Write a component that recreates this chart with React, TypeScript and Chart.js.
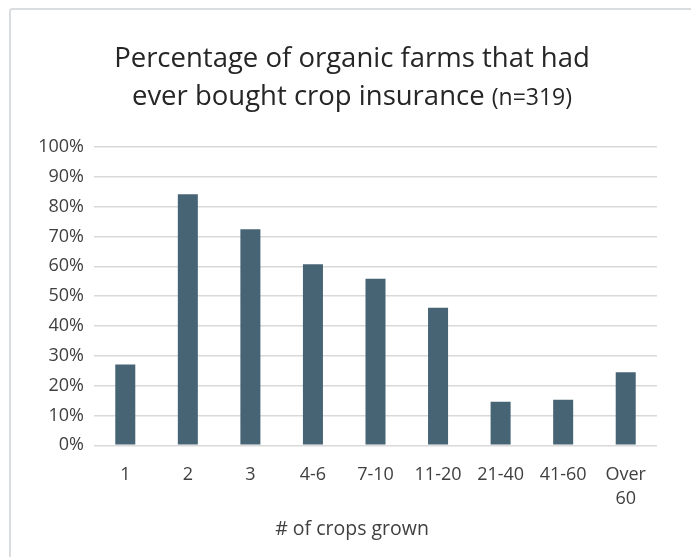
import React, { useEffect, useRef } from "react";
import { Chart, registerables } from "chart.js";

Chart.register(...registerables);

const categories: (string | string[])[] = ["1", "2", "3", "4-6", "7-10", "11-20", "21-40", "41-60", ["Over", "60"]];
const percentEverBought: number[] = [27.1, 84.2, 72.4, 60.7, 55.8, 46.1, 14.6, 15.3, 24.5];
const titleMain = "Percentage of organic farms that had";
const titleLine2 = "ever bought crop insurance";
const titleNote = "(n=319)";
const xAxisTitle = "# of crops grown";

const FONT = "'Open Sans', 'DejaVu Sans', sans-serif";
const TEXT = "#404040";

export default function App() {
  const canvasRef = useRef<HTMLCanvasElement | null>(null);

  useEffect(() => {
    if (!canvasRef.current) return;
    const chart = new Chart(canvasRef.current, {
      type: "bar",
      data: {
        labels: categories,
        datasets: [
          {
            label: "Ever bought crop insurance",
            data: percentEverBought,
            backgroundColor: "#476475",
            borderWidth: 0,
            barPercentage: 0.32,
            categoryPercentage: 1,
          },
        ],
      },
      options: {
        animation: false,
        responsive: false,
        devicePixelRatio: 1,
        layout: { padding: { left: 0, right: 34, top: 147, bottom: 0 } },
        plugins: {
          legend: { display: false },
          title: { display: false },
          tooltip: { enabled: false },
        },
        scales: {
          x: {
            grid: { display: false, drawTicks: false },
            border: { display: false },
            ticks: {
              color: TEXT,
              font: { family: FONT, size: 18, lineHeight: 1.3 },
              padding: 18,
              maxRotation: 0,
              autoSkip: false,
            },
            afterFit: (scale: any) => {
              scale.height = 111.7;
            },
          },
          y: {
            min: 0,
            max: 100,
            grid: { color: "#d9d9d9", lineWidth: 1.5, drawTicks: false },
            border: { display: false },
            ticks: {
              stepSize: 10,
              color: TEXT,
              padding: 10,
              font: { family: FONT, size: 18 },
              callback: (v: any) => `${v}%`,
            },
            afterFit: (scale: any) => {
              scale.width = 94;
            },
          },
        },
      },
    });
    return () => chart.destroy();
  }, []);

  return (
    <div
      style={{
        position: "fixed",
        left: 0,
        top: 0,
        width: 691,
        height: 557,
        background: "#ffffff",
        overflow: "hidden",
        fontFamily: FONT,
        color: TEXT,
      }}
    >
      <div
        style={{
          position: "absolute",
          left: 9,
          top: 8,
          width: 800,
          height: 700,
          border: "2px solid #d9dde0",
          borderRadius: 3,
          boxSizing: "border-box",
        }}
      />
      <canvas
        ref={canvasRef}
        width={691}
        height={557}
        style={{ position: "absolute", left: 0, top: 0, width: 691, height: 557 }}
      />
      <div
        style={{
          position: "absolute",
          left: 9,
          width: 686,
          top: 37.5,
          textAlign: "center",
          fontSize: 27.5,
          lineHeight: "38px",
          color: "#262626",
          whiteSpace: "nowrap",
        }}
      >
        <div>{titleMain}</div>
        <div>
          {titleLine2} <span style={{ fontSize: 23 }}>{titleNote}</span>
        </div>
      </div>
      <div
        style={{
          position: "absolute",
          left: 9,
          width: 686,
          top: 515,
          textAlign: "center",
          fontSize: 19.5,
          lineHeight: "25px",
          color: TEXT,
          whiteSpace: "nowrap",
        }}
      >
        {xAxisTitle}
      </div>
    </div>
  );
}
